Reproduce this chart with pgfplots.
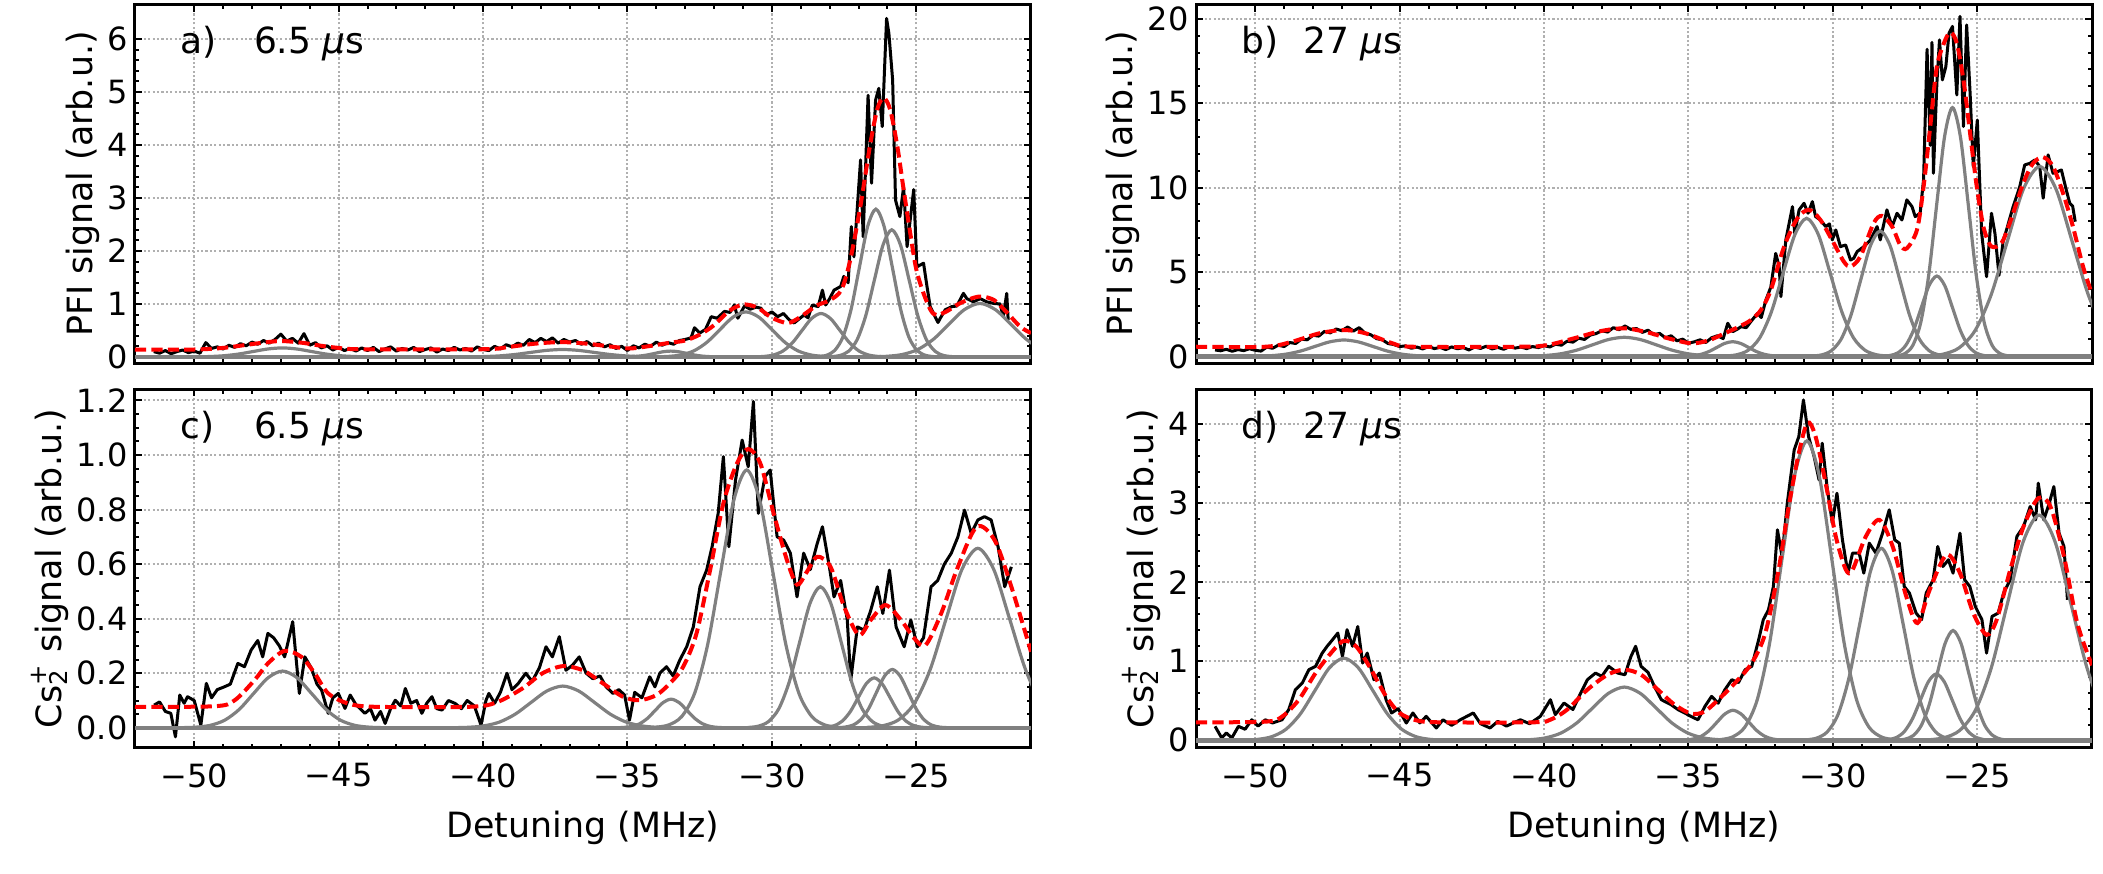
\documentclass[border=0pt]{standalone}
\usepackage{pgfplots}
\pgfplotsset{compat=1.18}
\usepackage{fontspec}
\setmainfont{DejaVu Sans}
\definecolor{compgray}{RGB}{128,128,128}
\definecolor{gridgray}{RGB}{176,176,176}
\tikzset{ann/.style={anchor=base west, inner sep=0pt, font=\fontsize{9}{10.8}\selectfont}}
\pgfplotsset{
  panel/.style={
    scale only axis, width=224pt,
    xmin=-52.05, xmax=-21.03,
    tick align=inside,
    xtick={-50,-45,-40,-35,-30,-25},
    minor x tick num=4,
    grid=major,
    major grid style={draw=gridgray, line width=0.5pt, dash pattern=on 0.55pt off 0.55pt},
    axis line style={line width=0.75pt},
    every tick/.style={black, line width=0.5pt},
    major tick length=1.75pt, minor tick length=1.1pt,
    tick label style={font=\fontsize{8}{9.6}\selectfont},
    yticklabel style={inner xsep=1.7pt},
    xticklabel style={inner ysep=3.7pt},
    label style={font=\fontsize{8.7}{10.4}\selectfont},
    ylabel style={inner sep=0pt},
    xlabel style={inner sep=2pt},
    anchor=south west,
  },
  dat/.style={black, line width=0.75pt, line join=round},
  comp/.style={compgray, line width=0.8pt, smooth},
  base/.style={compgray, line width=1.1pt},
  fit/.style={red, line width=1.0pt, dash pattern=on 2.8pt off 1.3pt, smooth},
}
\begin{document}
\begin{tikzpicture}
\path[use as bounding box] (0pt,0pt) rectangle (525.75pt,218.5pt);
% ---------------- panel a ----------------
\begin{axis}[panel, at={(33.75pt,127.675pt)}, height=89.65pt,
  ymin=-0.12, ymax=6.65, ytick={0,1,2,3,4,5,6}, yticklabels={0,1,2,3,4,5,6},
  minor y tick num=4, xticklabels={}, ylabel={PFI signal (arb.u.)}]
\addplot[dat] coordinates {(-51.4,0.10) (-51.2,0.07) (-51.0,0.12) (-50.8,0.06) (-50.6,0.10) (-50.4,0.13) (-50.2,0.08) (-50.0,0.11) (-49.8,0.07) (-49.6,0.27) (-49.4,0.16) (-49.2,0.19) (-49.0,0.15) (-48.8,0.22) (-48.6,0.18) (-48.4,0.25) (-48.2,0.21) (-48.0,0.28) (-47.8,0.24) (-47.6,0.31) (-47.4,0.26) (-47.2,0.33) (-47.0,0.43) (-46.8,0.30) (-46.6,0.35) (-46.4,0.26) (-46.2,0.44) (-46.0,0.22) (-45.8,0.27) (-45.6,0.17) (-45.4,0.21) (-45.2,0.13) (-45.0,0.18) (-44.8,0.12) (-44.6,0.16) (-44.4,0.11) (-44.2,0.17) (-44.0,0.12) (-43.8,0.18) (-43.6,0.10) (-43.4,0.15) (-43.2,0.19) (-43.0,0.11) (-42.8,0.16) (-42.6,0.13) (-42.4,0.18) (-42.2,0.10) (-42.0,0.14) (-41.8,0.17) (-41.6,0.09) (-41.4,0.15) (-41.2,0.12) (-41.0,0.18) (-40.8,0.13) (-40.6,0.16) (-40.4,0.11) (-40.2,0.19) (-40.0,0.14) (-39.8,0.12) (-39.6,0.20) (-39.4,0.15) (-39.2,0.23) (-39.0,0.19) (-38.8,0.26) (-38.6,0.22) (-38.4,0.33) (-38.2,0.27) (-38.0,0.35) (-37.8,0.29) (-37.6,0.36) (-37.4,0.26) (-37.2,0.33) (-37.0,0.28) (-36.8,0.31) (-36.6,0.24) (-36.4,0.29) (-36.2,0.21) (-36.0,0.26) (-35.8,0.19) (-35.6,0.23) (-35.4,0.16) (-35.2,0.20) (-35.0,0.12) (-34.8,0.21) (-34.6,0.17) (-34.4,0.24) (-34.2,0.20) (-34.0,0.28) (-33.8,0.22) (-33.6,0.27) (-33.4,0.24) (-33.2,0.31) (-33.0,0.33) (-32.8,0.36) (-32.68,0.55) (-32.5,0.45) (-32.3,0.52) (-32.1,0.76) (-31.9,0.73) (-31.64,0.86) (-31.45,0.84) (-31.3,0.98) (-31.18,0.73) (-30.95,0.96) (-30.75,0.90) (-30.55,0.94) (-30.38,0.92) (-30.2,0.79) (-30.0,0.85) (-29.8,0.76) (-29.6,0.82) (-29.4,0.70) (-29.23,0.64) (-29.05,0.72) (-28.89,0.79) (-28.75,0.74) (-28.6,0.98) (-28.4,0.95) (-28.25,1.26) (-28.14,0.98) (-28.0,1.10) (-27.85,1.26) (-27.62,1.33) (-27.51,1.52) (-27.36,1.40) (-27.25,2.46) (-27.16,1.89) (-26.93,3.72) (-26.84,2.27) (-26.67,4.94) (-26.55,3.28) (-26.41,4.85) (-26.30,5.07) (-26.18,4.35) (-26.03,6.39) (-25.95,6.11) (-25.82,5.23) (-25.72,2.96) (-25.57,2.65) (-25.44,3.21) (-25.32,2.08) (-25.09,3.16) (-24.98,1.70) (-24.75,1.77) (-24.63,1.33) (-24.52,0.95) (-24.25,0.65) (-24.17,0.73) (-24.0,0.89) (-23.77,0.95) (-23.6,0.96) (-23.37,1.20) (-23.25,1.10) (-23.02,1.04) (-22.79,1.10) (-22.56,1.04) (-22.33,1.01) (-22.1,1.00) (-21.99,0.76) (-21.87,1.20) (-21.82,0.70)};
\addplot[base] coordinates {(-52.05,0) (-21.03,0)};
\addplot[comp] coordinates {(-50.45,0.0004) (-49.95,0.0019) (-49.45,0.0075) (-48.95,0.0230) (-48.45,0.0552) (-47.95,0.1031) (-47.45,0.1500) (-46.95,0.17) (-46.45,0.1500) (-45.95,0.1031) (-45.45,0.0552) (-44.95,0.0230) (-44.45,0.0075) (-43.95,0.0019) (-43.45,0.0004)};
\addplot[comp] coordinates {(-41.1,0.0003) (-40.55,0.0016) (-40.0,0.0061) (-39.45,0.0189) (-38.9,0.0455) (-38.35,0.0849) (-37.8,0.1236) (-37.25,0.14) (-36.7,0.1236) (-36.15,0.0849) (-35.6,0.0455) (-35.05,0.0189) (-34.5,0.0061) (-33.95,0.0016) (-33.4,0.0003)};
\addplot[comp] coordinates {(-35.425,0.0002) (-35.15,0.0012) (-34.875,0.0048) (-34.6,0.0149) (-34.325,0.0357) (-34.05,0.0667) (-33.775,0.0971) (-33.5,0.11) (-33.225,0.0971) (-32.95,0.0667) (-32.675,0.0357) (-32.4,0.0149) (-32.125,0.0048) (-31.85,0.0012) (-31.575,0.0002)};
\addplot[comp] coordinates {(-34.05,0.0019) (-33.6,0.0094) (-33.15,0.0373) (-32.7,0.1150) (-32.25,0.2760) (-31.8,0.5155) (-31.35,0.7501) (-30.9,0.85) (-30.45,0.7501) (-30.0,0.5155) (-29.55,0.2760) (-29.1,0.1150) (-28.65,0.0373) (-28.2,0.0094) (-27.75,0.0019)};
\addplot[comp] coordinates {(-30.61,0.0018) (-30.28,0.0091) (-29.95,0.0360) (-29.62,0.1109) (-29.29,0.2663) (-28.96,0.4973) (-28.63,0.7237) (-28.3,0.82) (-27.97,0.7237) (-27.64,0.4973) (-27.31,0.2663) (-26.98,0.1109) (-26.65,0.0360) (-26.32,0.0091) (-25.99,0.0018)};
\addplot[comp] coordinates {(-28.395,0.0061) (-28.11,0.0310) (-27.825,0.1225) (-27.54,0.3775) (-27.255,0.9059) (-26.97,1.6921) (-26.685,2.4622) (-26.4,2.79) (-26.115,2.4622) (-25.83,1.6921) (-25.545,0.9059) (-25.26,0.3775) (-24.975,0.1225) (-24.69,0.0310) (-24.405,0.0061)};
\addplot[comp] coordinates {(-27.95,0.0053) (-27.65,0.0266) (-27.35,0.1054) (-27.05,0.3247) (-26.75,0.7793) (-26.45,1.4556) (-26.15,2.1180) (-25.85,2.40) (-25.55,2.1180) (-25.25,1.4556) (-24.95,0.7793) (-24.65,0.3247) (-24.35,0.1054) (-24.05,0.0266) (-23.75,0.0053)};
\addplot[comp] coordinates {(-26.58,0.0022) (-26.04,0.0112) (-25.5,0.0443) (-24.96,0.1367) (-24.42,0.3279) (-23.88,0.6126) (-23.34,0.8913) (-22.8,1.01) (-22.26,0.8913) (-21.72,0.6126) (-21.18,0.3279) (-20.64,0.1367) (-20.1,0.0443)};
\addplot[fit] coordinates {(-52.05,0.14) (-50.0,0.14) (-49.0,0.17) (-48.3,0.22) (-47.6,0.27) (-47.0,0.30) (-46.3,0.27) (-45.6,0.21) (-45.0,0.17) (-44.2,0.145) (-40.0,0.145) (-39.1,0.19) (-38.2,0.25) (-37.3,0.28) (-36.4,0.25) (-35.5,0.19) (-34.9,0.16) (-34.3,0.20) (-33.5,0.27) (-33.0,0.31) (-32.5,0.42) (-32.0,0.60) (-31.5,0.86) (-31.0,0.99) (-30.5,0.93) (-30.0,0.74) (-29.45,0.64) (-29.0,0.76) (-28.45,0.97) (-28.0,1.07) (-27.6,1.26) (-27.3,1.80) (-26.95,2.80) (-26.6,4.00) (-26.35,4.68) (-26.13,4.89) (-25.9,4.66) (-25.65,3.95) (-25.45,3.20) (-25.2,2.30) (-25.0,1.65) (-24.75,1.20) (-24.5,0.88) (-24.3,0.79) (-23.95,0.86) (-23.5,1.01) (-23.0,1.12) (-22.7,1.14) (-22.3,1.07) (-21.9,0.86) (-21.4,0.57) (-21.03,0.45)};
\node[ann] at (rel axis cs:0.050,0.863) {a)};
\node[ann] at (rel axis cs:0.132,0.863) {6.5 {\itshape μ}s};
\end{axis}
% ---------------- panel b ----------------
\begin{axis}[panel, at={(299pt,127.675pt)}, height=89.65pt,
  ymin=-0.41, ymax=20.84, ytick={0,5,10,15,20}, yticklabels={0,5,10,15,20},
  minor y tick num=4, xticklabels={}, ylabel={PFI signal (arb.u.)}]
\addplot[dat] coordinates {(-51.39,0.38) (-51.2,0.33) (-51.0,0.42) (-50.8,0.30) (-50.6,0.40) (-50.4,0.34) (-50.2,0.45) (-50.0,0.36) (-49.8,0.31) (-49.6,0.55) (-49.4,0.48) (-49.2,0.66) (-49.0,0.58) (-48.8,0.82) (-48.6,0.76) (-48.4,1.02) (-48.2,0.98) (-48.0,1.25) (-47.8,1.20) (-47.6,1.48) (-47.4,1.39) (-47.2,1.62) (-47.0,1.52) (-46.8,1.74) (-46.6,1.50) (-46.4,1.70) (-46.2,1.38) (-46.0,1.28) (-45.8,1.05) (-45.6,0.98) (-45.4,0.76) (-45.2,0.70) (-45.0,0.58) (-44.8,0.62) (-44.6,0.48) (-44.4,0.55) (-44.2,0.44) (-44.0,0.58) (-43.8,0.46) (-43.6,0.53) (-43.4,0.40) (-43.2,0.56) (-43.0,0.45) (-42.8,0.52) (-42.6,0.38) (-42.4,0.55) (-42.2,0.47) (-42.0,0.60) (-41.8,0.44) (-41.6,0.53) (-41.4,0.42) (-41.2,0.57) (-41.0,0.49) (-40.8,0.55) (-40.6,0.46) (-40.4,0.58) (-40.2,0.52) (-40.0,0.63) (-39.8,0.56) (-39.6,0.72) (-39.4,0.66) (-39.2,0.90) (-39.0,0.84) (-38.8,1.08) (-38.6,1.00) (-38.4,1.26) (-38.2,1.35) (-38.0,1.52) (-37.8,1.44) (-37.6,1.70) (-37.4,1.58) (-37.2,1.80) (-37.0,1.60) (-36.8,1.65) (-36.6,1.42) (-36.4,1.55) (-36.2,1.28) (-36.0,1.36) (-35.8,1.10) (-35.6,1.22) (-35.4,0.92) (-35.2,1.02) (-35.0,0.78) (-34.8,0.86) (-34.6,0.98) (-34.4,0.82) (-34.2,1.10) (-34.0,1.22) (-33.8,1.05) (-33.64,1.96) (-33.47,1.46) (-33.3,1.62) (-33.18,1.76) (-33.0,1.70) (-32.84,2.06) (-32.61,2.55) (-32.48,2.30) (-32.32,3.34) (-32.15,4.10) (-31.98,6.10) (-31.86,5.32) (-31.8,3.54) (-31.63,6.90) (-31.4,8.87) (-31.32,7.29) (-31.17,8.68) (-31.0,9.07) (-30.86,8.48) (-30.71,9.17) (-30.6,8.28) (-30.43,8.08) (-30.25,7.69) (-30.12,7.85) (-30.02,6.90) (-29.9,7.49) (-29.74,6.50) (-29.56,6.60) (-29.39,5.71) (-29.28,5.81) (-29.16,6.21) (-28.93,6.50) (-28.7,6.90) (-28.47,7.69) (-28.36,6.90) (-28.13,8.68) (-27.95,7.69) (-27.78,8.48) (-27.61,8.08) (-27.44,9.27) (-27.26,8.87) (-27.15,8.28) (-26.98,8.48) (-26.86,10.50) (-26.74,18.20) (-26.63,12.50) (-26.57,18.60) (-26.52,10.85) (-26.4,16.19) (-26.31,18.75) (-26.21,16.38) (-26.09,17.17) (-25.98,19.15) (-25.86,19.55) (-25.71,15.49) (-25.6,20.14) (-25.48,13.62) (-25.37,19.64) (-25.25,15.59) (-25.14,11.25) (-25.0,14.00) (-24.85,7.29) (-24.68,4.72) (-24.51,8.48) (-24.39,7.29) (-24.25,4.80) (-24.1,6.90) (-23.99,7.49) (-23.76,8.87) (-23.53,10.06) (-23.36,11.34) (-23.18,11.44) (-23.01,11.64) (-22.84,11.25) (-22.72,9.37) (-22.55,11.94) (-22.38,10.85) (-22.21,10.95) (-22.09,11.05) (-21.92,9.86) (-21.8,9.07) (-21.7,8.90) (-21.61,7.98)};
\addplot[base] coordinates {(-52.05,0) (-21.03,0)};
\addplot[comp] coordinates {(-50.43,0.0021) (-49.93,0.0108) (-49.43,0.0426) (-48.93,0.1312) (-48.43,0.3150) (-47.93,0.5883) (-47.43,0.8560) (-46.93,0.97) (-46.43,0.8560) (-45.93,0.5883) (-45.43,0.3150) (-44.93,0.1312) (-44.43,0.0426) (-43.93,0.0108) (-43.43,0.0021)};
\addplot[comp] coordinates {(-41.07,0.0025) (-40.52,0.0125) (-39.97,0.0496) (-39.42,0.1529) (-38.87,0.3669) (-38.32,0.6853) (-37.77,0.9972) (-37.22,1.13) (-36.67,0.9972) (-36.12,0.6853) (-35.57,0.3669) (-35.02,0.1529) (-34.47,0.0496) (-33.92,0.0125) (-33.37,0.0025)};
\addplot[comp] coordinates {(-35.395,0.0019) (-35.12,0.0097) (-34.845,0.0382) (-34.57,0.1177) (-34.295,0.2825) (-34.02,0.5277) (-33.745,0.7678) (-33.47,0.87) (-33.195,0.7678) (-32.92,0.5277) (-32.645,0.2825) (-32.37,0.1177) (-32.095,0.0382) (-31.82,0.0097) (-31.545,0.0019)};
\addplot[comp] coordinates {(-33.745,0.0180) (-33.34,0.0908) (-32.935,0.3591) (-32.53,1.1068) (-32.125,2.6560) (-31.72,4.9612) (-31.315,7.2189) (-30.91,8.18) (-30.505,7.2189) (-30.1,4.9612) (-29.695,2.6560) (-29.29,1.1068) (-28.885,0.3591) (-28.48,0.0908) (-28.075,0.0180)};
\addplot[comp] coordinates {(-30.74,0.0163) (-30.4,0.0825) (-30.06,0.3262) (-29.72,1.0053) (-29.38,2.4125) (-29.04,4.5063) (-28.7,6.5570) (-28.36,7.43) (-28.02,6.5570) (-27.68,4.5063) (-27.34,2.4125) (-27.0,1.0053) (-26.66,0.3262) (-26.32,0.0825) (-25.98,0.0163)};
\addplot[comp] coordinates {(-28.29,0.0105) (-28.02,0.0528) (-27.75,0.2090) (-27.48,0.6440) (-27.21,1.5456) (-26.94,2.8869) (-26.67,4.2007) (-26.4,4.76) (-26.13,4.2007) (-25.86,2.8869) (-25.59,1.5456) (-25.32,0.6440) (-25.05,0.2090) (-24.78,0.0528) (-24.51,0.0105)};
\addplot[comp] coordinates {(-27.785,0.0324) (-27.51,0.1636) (-27.235,0.6471) (-26.96,1.9943) (-26.685,4.7861) (-26.41,8.9398) (-26.135,13.0081) (-25.86,14.74) (-25.585,13.0081) (-25.31,8.9398) (-25.035,4.7861) (-24.76,1.9943) (-24.485,0.6471) (-24.21,0.1636) (-23.935,0.0324)};
\addplot[comp] coordinates {(-26.76,0.0248) (-26.2,0.1249) (-25.64,0.4939) (-25.08,1.5221) (-24.52,3.6529) (-23.96,6.8231) (-23.4,9.9281) (-22.84,11.25) (-22.28,9.9281) (-21.72,6.8231) (-21.16,3.6529) (-20.6,1.5221) (-20.04,0.4939)};
\addplot[fit] coordinates {(-52.05,0.57) (-49.65,0.57) (-48.72,0.87) (-47.79,1.36) (-46.93,1.56) (-46.17,1.36) (-45.24,0.77) (-44.54,0.57) (-40.82,0.57) (-39.89,0.67) (-38.96,1.07) (-38.03,1.50) (-37.22,1.66) (-36.41,1.42) (-35.71,1.07) (-34.9,0.77) (-34.3,0.95) (-33.7,1.40) (-33.2,1.80) (-32.84,2.15) (-32.49,2.75) (-32.15,3.93) (-31.69,6.50) (-31.23,8.18) (-30.83,8.68) (-30.43,8.08) (-29.97,6.70) (-29.62,5.61) (-29.39,5.32) (-29.05,5.91) (-28.59,7.89) (-28.3,8.32) (-27.95,7.69) (-27.67,6.60) (-27.44,6.40) (-27.09,7.49) (-26.86,10.06) (-26.63,13.62) (-26.4,17.17) (-26.11,18.75) (-25.92,19.19) (-25.71,18.56) (-25.48,16.38) (-25.25,13.22) (-25.02,10.06) (-24.79,7.69) (-24.56,6.60) (-24.33,6.50) (-24.1,6.90) (-23.76,8.48) (-23.41,10.26) (-23.07,11.44) (-22.72,11.80) (-22.38,11.25) (-22.03,9.66) (-21.69,7.69) (-21.34,5.32) (-21.03,3.7)};
\node[ann] at (rel axis cs:0.050,0.863) {b)};
\node[ann] at (rel axis cs:0.119,0.863) {27 {\itshape μ}s};
\end{axis}
% ---------------- panel c ----------------
\begin{axis}[panel, at={(33.75pt,31.5pt)}, height=89.675pt,
  ymin=-0.074, ymax=1.241, ytick={0,0.2,0.4,0.6,0.8,1.0,1.2}, yticklabels={0.0,0.2,0.4,0.6,0.8,1.0,1.2},
  minor y tick num=3, xticklabels={−50,−45,−40,−35,−30,−25},
  xlabel={Detuning (MHz)}, ylabel={Cs\rlap{\textsubscript{2}}\textsuperscript{+} signal (arb.u.)}]
\addplot[dat] coordinates {(-51.39,0.083) (-51.2,0.095) (-51.0,0.06) (-50.81,0.053) (-50.65,-0.033) (-50.5,0.12) (-50.35,0.09) (-50.23,0.114) (-50.0,0.10) (-49.77,0.01) (-49.58,0.163) (-49.4,0.11) (-49.2,0.14) (-48.96,0.15) (-48.75,0.16) (-48.49,0.236) (-48.26,0.224) (-48.03,0.285) (-47.8,0.32) (-47.63,0.26) (-47.45,0.346) (-47.25,0.33) (-47.05,0.30) (-46.87,0.26) (-46.59,0.389) (-46.36,0.126) (-46.17,0.26) (-45.95,0.22) (-45.75,0.16) (-45.59,0.138) (-45.36,0.053) (-45.2,0.11) (-45.01,0.126) (-44.78,0.071) (-44.6,0.12) (-44.4,0.085) (-44.09,0.053) (-43.9,0.07) (-43.74,0.028) (-43.55,0.06) (-43.39,0.016) (-43.2,0.07) (-43.04,0.101) (-42.85,0.08) (-42.69,0.144) (-42.5,0.09) (-42.3,0.10) (-42.12,0.053) (-41.95,0.09) (-41.77,0.114) (-41.6,0.07) (-41.42,0.065) (-41.2,0.10) (-40.96,0.089) (-40.75,0.07) (-40.55,0.10) (-40.3,0.08) (-40.07,0.01) (-39.9,0.10) (-39.8,0.126) (-39.6,0.09) (-39.4,0.13) (-39.17,0.20) (-39.0,0.14) (-38.8,0.16) (-38.52,0.20) (-38.3,0.17) (-38.05,0.22) (-37.82,0.297) (-37.6,0.26) (-37.36,0.334) (-37.13,0.211) (-36.9,0.23) (-36.67,0.26) (-36.43,0.20) (-36.2,0.18) (-35.95,0.19) (-35.74,0.15) (-35.5,0.126) (-35.3,0.14) (-35.1,0.12) (-34.93,0.028) (-34.75,0.13) (-34.5,0.11) (-34.23,0.187) (-34.05,0.15) (-33.88,0.20) (-33.65,0.224) (-33.42,0.19) (-33.19,0.248) (-32.95,0.297) (-32.72,0.37) (-32.49,0.517) (-32.26,0.578) (-32.07,0.664) (-31.86,0.786) (-31.68,0.994) (-31.49,0.664) (-31.26,0.908) (-31.03,1.055) (-30.82,0.957) (-30.64,1.196) (-30.47,0.786) (-30.24,0.921) (-30.06,0.945) (-29.82,0.70) (-29.59,0.688) (-29.36,0.64) (-29.13,0.48) (-28.9,0.64) (-28.67,0.58) (-28.43,0.676) (-28.25,0.737) (-28.01,0.59) (-27.85,0.48) (-27.62,0.54) (-27.39,0.395) (-27.27,0.175) (-27.04,0.37) (-26.81,0.358) (-26.58,0.43) (-26.35,0.517) (-26.16,0.419) (-25.93,0.578) (-25.7,0.37) (-25.42,0.297) (-25.19,0.395) (-24.96,0.297) (-24.75,0.33) (-24.49,0.517) (-24.26,0.54) (-24.03,0.60) (-23.79,0.64) (-23.56,0.70) (-23.33,0.798) (-23.1,0.713) (-22.87,0.762) (-22.64,0.774) (-22.41,0.762) (-22.17,0.664) (-21.94,0.517) (-21.71,0.59)};
\addplot[base] coordinates {(-52.05,0) (-21.03,0)};
\addplot[comp] coordinates {(-50.44,0.0005) (-49.94,0.0023) (-49.44,0.0091) (-48.94,0.0281) (-48.44,0.0675) (-47.94,0.1262) (-47.44,0.1836) (-46.94,0.208) (-46.44,0.1836) (-45.94,0.1262) (-45.44,0.0675) (-44.94,0.0281) (-44.44,0.0091) (-43.94,0.0023) (-43.44,0.0005)};
\addplot[comp] coordinates {(-41.09,0.0003) (-40.54,0.0017) (-39.99,0.0067) (-39.44,0.0207) (-38.89,0.0497) (-38.34,0.0928) (-37.79,0.1350) (-37.24,0.153) (-36.69,0.1350) (-36.14,0.0928) (-35.59,0.0497) (-35.04,0.0207) (-34.49,0.0067) (-33.94,0.0017) (-33.39,0.0003)};
\addplot[comp] coordinates {(-35.415,0.0002) (-35.14,0.0012) (-34.865,0.0046) (-34.59,0.0142) (-34.315,0.0341) (-34.04,0.0637) (-33.765,0.0927) (-33.49,0.105) (-33.215,0.0927) (-32.94,0.0637) (-32.665,0.0341) (-32.39,0.0142) (-32.115,0.0046) (-31.84,0.0012) (-31.565,0.0002)};
\addplot[comp] coordinates {(-34.02,0.0021) (-33.57,0.0105) (-33.12,0.0415) (-32.67,0.1279) (-32.22,0.3068) (-31.77,0.5731) (-31.32,0.8340) (-30.87,0.945) (-30.42,0.8340) (-29.97,0.5731) (-29.52,0.3068) (-29.07,0.1279) (-28.62,0.0415) (-28.17,0.0105) (-27.72,0.0021)};
\addplot[comp] coordinates {(-30.84,0.0011) (-30.48,0.0057) (-30.12,0.0227) (-29.76,0.0700) (-29.4,0.1679) (-29.04,0.3136) (-28.68,0.4563) (-28.32,0.517) (-27.96,0.4563) (-27.6,0.3136) (-27.24,0.1679) (-26.88,0.0700) (-26.52,0.0227) (-26.16,0.0057) (-25.8,0.0011)};
\addplot[comp] coordinates {(-28.385,0.0004) (-28.11,0.0020) (-27.835,0.0080) (-27.56,0.0248) (-27.285,0.0594) (-27.01,0.1110) (-26.735,0.1615) (-26.46,0.183) (-26.185,0.1615) (-25.91,0.1110) (-25.635,0.0594) (-25.36,0.0248) (-25.085,0.0080) (-24.81,0.0020) (-24.535,0.0004)};
\addplot[comp] coordinates {(-27.755,0.0005) (-27.48,0.0024) (-27.205,0.0094) (-26.93,0.0290) (-26.655,0.0695) (-26.38,0.1298) (-26.105,0.1889) (-25.83,0.214) (-25.555,0.1889) (-25.28,0.1298) (-25.005,0.0695) (-24.73,0.0290) (-24.455,0.0094) (-24.18,0.0024) (-23.905,0.0005)};
\addplot[comp] coordinates {(-26.72,0.0014) (-26.17,0.0073) (-25.62,0.0289) (-25.07,0.0890) (-24.52,0.2137) (-23.97,0.3991) (-23.42,0.5807) (-22.87,0.658) (-22.32,0.5807) (-21.77,0.3991) (-21.22,0.2137) (-20.67,0.0890) (-20.12,0.0289)};
\addplot[fit] coordinates {(-52.05,0.077) (-49.3,0.079) (-48.61,0.10) (-47.91,0.175) (-47.45,0.236) (-46.87,0.282) (-46.29,0.26) (-45.83,0.20) (-45.36,0.126) (-44.67,0.089) (-43.74,0.077) (-40.49,0.077) (-39.56,0.092) (-38.64,0.144) (-37.94,0.20) (-37.24,0.226) (-36.55,0.211) (-35.85,0.163) (-35.16,0.114) (-34.58,0.101) (-34.0,0.12) (-33.53,0.163) (-33.07,0.224) (-32.61,0.346) (-32.14,0.578) (-31.68,0.823) (-31.21,0.969) (-30.82,1.022) (-30.4,0.969) (-29.94,0.786) (-29.48,0.615) (-29.13,0.525) (-28.8,0.57) (-28.43,0.627) (-27.97,0.59) (-27.5,0.444) (-26.99,0.34) (-26.58,0.395) (-26.07,0.45) (-25.53,0.395) (-25.07,0.328) (-24.68,0.303) (-24.14,0.419) (-23.56,0.59) (-22.91,0.737) (-22.29,0.688) (-21.71,0.517) (-21.03,0.279)};
\node[ann] at (rel axis cs:0.050,0.863) {c)};
\node[ann] at (rel axis cs:0.132,0.863) {6.5 {\itshape μ}s};
\end{axis}
% ---------------- panel d ----------------
\begin{axis}[panel, at={(299pt,31.5pt)}, height=89.675pt,
  ymin=-0.097, ymax=4.443, ytick={0,1,2,3,4}, yticklabels={0,1,2,3,4},
  minor y tick num=4, xticklabels={−50,−45,−40,−35,−30,−25},
  xlabel={Detuning (MHz)}, ylabel={Cs\rlap{\textsubscript{2}}\textsuperscript{+} signal (arb.u.)}]
\addplot[dat] coordinates {(-51.39,0.177) (-51.16,0.03) (-51.0,0.093) (-50.81,0.03) (-50.58,0.177) (-50.35,0.14) (-50.12,0.26) (-49.9,0.18) (-49.65,0.26) (-49.4,0.22) (-49.07,0.26) (-48.84,0.388) (-48.61,0.64) (-48.37,0.725) (-48.14,0.894) (-47.91,0.936) (-47.68,1.104) (-47.51,1.19) (-47.33,1.27) (-47.14,1.357) (-46.98,1.062) (-46.82,1.40) (-46.63,1.19) (-46.45,1.44) (-46.28,0.978) (-46.12,1.104) (-45.89,0.767) (-45.7,0.851) (-45.47,0.514) (-45.28,0.346) (-45.05,0.40) (-44.77,0.219) (-44.54,0.346) (-44.3,0.22) (-44.08,0.303) (-43.73,0.156) (-43.5,0.26) (-43.2,0.19) (-42.9,0.26) (-42.45,0.346) (-42.2,0.21) (-41.87,0.156) (-41.6,0.24) (-41.3,0.18) (-40.82,0.26) (-40.5,0.21) (-40.13,0.303) (-39.78,0.514) (-39.61,0.325) (-39.31,0.472) (-39.0,0.39) (-38.73,0.60) (-38.5,0.767) (-38.22,0.851) (-38.0,0.81) (-37.76,0.936) (-37.45,0.851) (-37.2,0.83) (-36.99,1.062) (-36.83,1.19) (-36.64,0.936) (-36.4,0.86) (-36.18,0.683) (-35.94,0.514) (-35.6,0.45) (-35.36,0.388) (-35.13,0.346) (-34.9,0.30) (-34.67,0.26) (-34.43,0.43) (-34.2,0.556) (-33.97,0.47) (-33.74,0.64) (-33.5,0.767) (-33.27,0.73) (-33.04,0.894) (-32.81,0.936) (-32.57,1.273) (-32.41,1.526) (-32.23,1.652) (-32.06,1.947) (-31.92,2.664) (-31.76,2.327) (-31.58,3.0) (-31.34,3.675) (-31.18,3.844) (-31.02,4.308) (-30.84,3.84) (-30.65,3.591) (-30.48,3.296) (-30.37,3.76) (-30.2,3.2) (-30.02,2.748) (-29.86,3.127) (-29.67,2.537) (-29.48,2.116) (-29.32,2.369) (-29.09,2.369) (-28.93,2.116) (-28.74,2.495) (-28.51,2.369) (-28.28,2.622) (-28.05,2.917) (-27.86,2.537) (-27.7,2.495) (-27.53,1.947) (-27.35,1.863) (-27.12,1.61) (-26.93,1.526) (-26.77,1.863) (-26.53,2.032) (-26.37,2.453) (-26.19,2.2) (-26.0,2.285) (-25.84,2.116) (-25.6,2.622) (-25.44,2.032) (-25.26,1.947) (-25.07,1.694) (-24.84,1.526) (-24.68,1.104) (-24.49,1.568) (-24.28,1.61) (-24.09,1.863) (-23.86,2.032) (-23.63,2.58) (-23.4,2.706) (-23.17,2.959) (-22.98,2.79) (-22.89,3.254) (-22.7,2.79) (-22.51,3.0) (-22.35,3.212) (-22.17,2.622) (-22.0,2.453) (-21.88,1.779)};
\addplot[base] coordinates {(-52.05,0) (-21.03,0)};
\addplot[comp] coordinates {(-50.43,0.0023) (-49.93,0.0115) (-49.43,0.0457) (-48.93,0.1407) (-48.43,0.3377) (-47.93,0.6308) (-47.43,0.9178) (-46.93,1.04) (-46.43,0.9178) (-45.93,0.6308) (-45.43,0.3377) (-44.93,0.1407) (-44.43,0.0457) (-43.93,0.0115) (-43.43,0.0023)};
\addplot[comp] coordinates {(-41.07,0.0015) (-40.52,0.0075) (-39.97,0.0296) (-39.42,0.0912) (-38.87,0.2188) (-38.32,0.4088) (-37.77,0.5948) (-37.22,0.674) (-36.67,0.5948) (-36.12,0.4088) (-35.57,0.2188) (-35.02,0.0912) (-34.47,0.0296) (-33.92,0.0075) (-33.37,0.0015)};
\addplot[comp] coordinates {(-35.385,0.0008) (-35.11,0.0042) (-34.835,0.0167) (-34.56,0.0514) (-34.285,0.1234) (-34.01,0.2305) (-33.735,0.3354) (-33.46,0.38) (-33.185,0.3354) (-32.91,0.2305) (-32.635,0.1234) (-32.36,0.0514) (-32.085,0.0167) (-31.81,0.0042) (-31.535,0.0008)};
\addplot[comp] coordinates {(-33.91,0.0083) (-33.48,0.0421) (-33.05,0.1664) (-32.62,0.5128) (-32.19,1.2306) (-31.76,2.2986) (-31.33,3.3447) (-30.9,3.79) (-30.47,3.3447) (-30.04,2.2986) (-29.61,1.2306) (-29.18,0.5128) (-28.75,0.1664) (-28.32,0.0421) (-27.89,0.0083)};
\addplot[comp] coordinates {(-30.945,0.0053) (-30.57,0.0270) (-30.195,0.1067) (-29.82,0.3288) (-29.445,0.7890) (-29.07,1.4738) (-28.695,2.1445) (-28.32,2.43) (-27.945,2.1445) (-27.57,1.4738) (-27.195,0.7890) (-26.82,0.3288) (-26.445,0.1067) (-26.07,0.0270) (-25.695,0.0053)};
\addplot[comp] coordinates {(-28.345,0.0018) (-28.07,0.0093) (-27.795,0.0369) (-27.52,0.1137) (-27.245,0.2727) (-26.97,0.5095) (-26.695,0.7413) (-26.42,0.84) (-26.145,0.7413) (-25.87,0.5095) (-25.595,0.2727) (-25.32,0.1137) (-25.045,0.0369) (-24.77,0.0093) (-24.495,0.0018)};
\addplot[comp] coordinates {(-27.765,0.0031) (-27.49,0.0154) (-27.215,0.0610) (-26.94,0.1881) (-26.665,0.4513) (-26.39,0.8430) (-26.115,1.2267) (-25.84,1.39) (-25.565,1.2267) (-25.29,0.8430) (-25.015,0.4513) (-24.74,0.1881) (-24.465,0.0610) (-24.19,0.0154) (-23.915,0.0031)};
\addplot[comp] coordinates {(-26.71,0.0063) (-26.16,0.0316) (-25.61,0.1251) (-25.06,0.3856) (-24.51,0.9254) (-23.96,1.7285) (-23.41,2.5151) (-22.86,2.85) (-22.31,2.5151) (-21.76,1.7285) (-21.21,0.9254) (-20.66,0.3856) (-20.11,0.1251)};
\addplot[fit] coordinates {(-52.05,0.228) (-49.65,0.236) (-49.07,0.30) (-48.49,0.514) (-47.91,0.851) (-47.33,1.125) (-46.93,1.26) (-46.51,1.19) (-46.05,0.936) (-45.47,0.556) (-45.0,0.346) (-44.42,0.253) (-43.61,0.228) (-40.36,0.228) (-39.78,0.261) (-39.2,0.388) (-38.5,0.641) (-37.8,0.83) (-37.22,0.894) (-36.64,0.83) (-36.06,0.641) (-35.48,0.451) (-34.9,0.337) (-34.43,0.367) (-33.85,0.556) (-33.39,0.725) (-32.81,0.978) (-32.34,1.357) (-31.88,2.158) (-31.53,2.959) (-31.18,3.633) (-30.88,4.021) (-30.6,3.844) (-30.25,3.254) (-29.9,2.58) (-29.55,2.158) (-29.32,2.158) (-28.86,2.58) (-28.39,2.79) (-27.93,2.453) (-27.46,1.821) (-27.07,1.484) (-26.65,1.905) (-26.07,2.348) (-25.6,2.116) (-25.14,1.61) (-24.68,1.336) (-24.33,1.526) (-23.86,2.158) (-23.4,2.706) (-22.89,3.064) (-22.47,2.959) (-22.0,2.327) (-21.54,1.484) (-21.03,0.95)};
\node[ann] at (rel axis cs:0.050,0.863) {d)};
\node[ann] at (rel axis cs:0.119,0.863) {27 {\itshape μ}s};
\end{axis}
\end{tikzpicture}
\end{document}
